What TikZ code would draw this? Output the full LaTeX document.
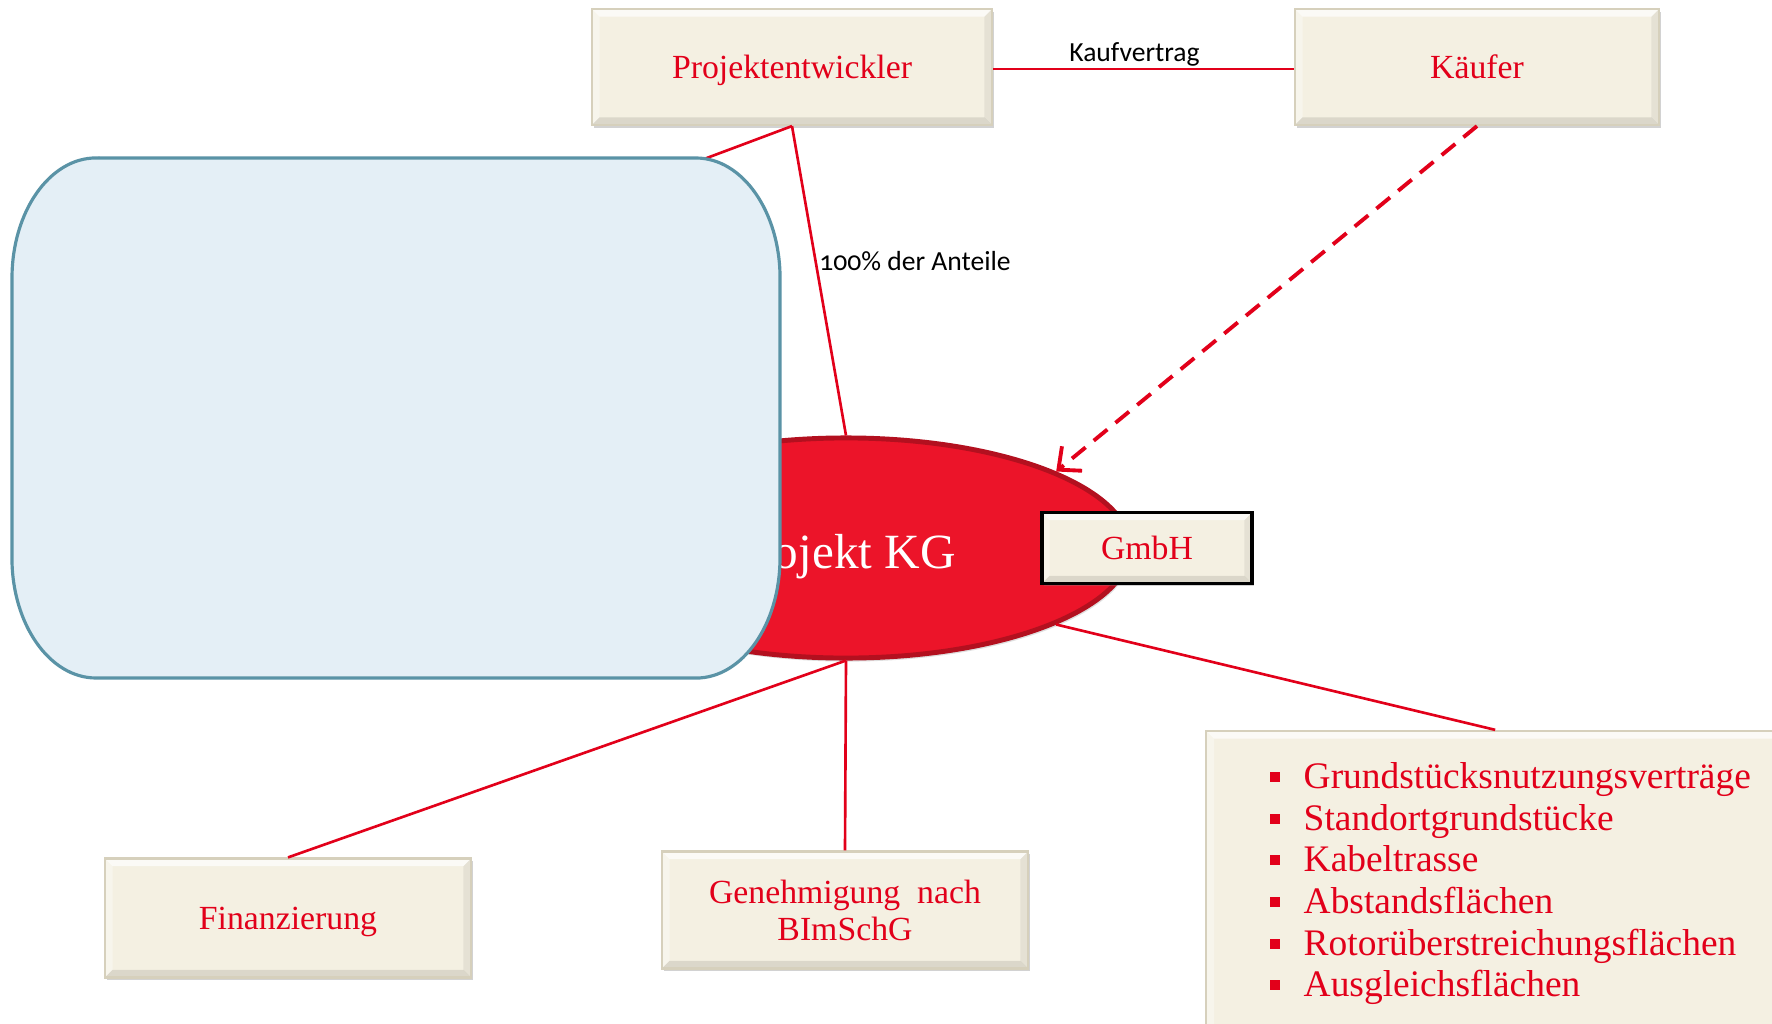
\documentclass[tikz,border=0pt]{standalone}
\usepackage{fontspec}
\setmainfont{Liberation Serif}
\newfontfamily\labfont[Numbers=OldStyle]{Carlito}
\usetikzlibrary{shapes.geometric,arrows.meta,shadows}
\definecolor{rot}{HTML}{E2001A}
\definecolor{kgrot}{HTML}{EC1429}
\definecolor{kgrand}{HTML}{B3101F}
\definecolor{creme}{HTML}{F4F0E2}
\definecolor{cremerand}{HTML}{D6D0BC}
\definecolor{hellblau}{HTML}{E4EFF6}
\definecolor{blaurand}{HTML}{5A93A6}
\tikzset{
  kasten/.style={rectangle, fill=creme, draw=cremerand, line width=0.6pt,
    drop shadow={shadow xshift=0.6pt, shadow yshift=-0.8pt, opacity=0.35},
    text=rot, font=\fontsize{9.6}{11.5}\selectfont, align=center, inner sep=0pt, text depth=0pt,
    path picture={
      \fill[white, opacity=0.7] (path picture bounding box.north west) -- (path picture bounding box.north east)
        -- ([xshift=-2.2pt,yshift=-2.2pt]path picture bounding box.north east) -- ([xshift=2.2pt,yshift=-2.2pt]path picture bounding box.north west) -- cycle;
      \fill[white, opacity=0.35] (path picture bounding box.north west) -- (path picture bounding box.south west)
        -- ([xshift=2.2pt,yshift=2.2pt]path picture bounding box.south west) -- ([xshift=2.2pt,yshift=-2.2pt]path picture bounding box.north west) -- cycle;
      \fill[black, opacity=0.10] (path picture bounding box.south west) -- (path picture bounding box.south east)
        -- ([xshift=-2.2pt,yshift=2.2pt]path picture bounding box.south east) -- ([xshift=2.2pt,yshift=2.2pt]path picture bounding box.south west) -- cycle;
      \fill[black, opacity=0.06] (path picture bounding box.north east) -- (path picture bounding box.south east)
        -- ([xshift=-2.2pt,yshift=2.2pt]path picture bounding box.south east) -- ([xshift=-2.2pt,yshift=-2.2pt]path picture bounding box.north east) -- cycle;
    }},
  verbindung/.style={draw=rot, line width=0.75pt},
  beschriftung/.style={font=\labfont\fontsize{7.85}{9.4}\selectfont, text=black, inner sep=0pt},
  punkt/.style={rectangle, fill=rot, minimum width=0.1cm, minimum height=0.1cm, inner sep=0pt},
  eintrag/.style={anchor=base west, text=rot, font=\fontsize{10.65}{13}\selectfont, inner sep=0pt}
}
\begin{document}
\begin{tikzpicture}[x=0.01cm, y=-0.01cm]
\clip (0,0) rectangle (1772,1024);
\useasboundingbox (0,0) rectangle (1772,1024);
\fill[white] (0,0) rectangle (1772,1024);

% nodes
\node[kasten, minimum width=4cm, minimum height=1.16cm] (pe) at (792,67) {Projektentwickler};
\node[kasten, minimum width=3.64cm, minimum height=1.16cm] (kaeufer) at (1477,67) {Käufer};
\node[kasten, minimum width=3.66cm, minimum height=1.19cm] (fin) at (288,918) {Finanzierung};
\node[kasten, minimum width=3.66cm, minimum height=1.17cm] (gen) at (845,910) {Genehmigung\ \ nach\\[-1pt]BImSchG};
\node[kasten, minimum width=5.83cm, minimum height=3.14cm] (liste) at (1498,888) {};

% Projekt KG ellipse
\node[ellipse, fill=kgrot, draw=kgrand, line width=1.4pt, minimum width=5.68cm, minimum height=2.2cm, inner sep=0pt,
  drop shadow={shadow xshift=0.5pt, shadow yshift=-1pt, opacity=0.25}] (kg) at (846,548) {};
\node[text=white, font=\fontsize{14}{17}\selectfont, inner sep=0pt, anchor=base] (kgtext) at (843,568) {Projekt KG};

% connectors
\coordinate (verdeckt) at (600,198);
\draw[verbindung] ([yshift=-0.6pt]pe.east) -- node[beschriftung, above=0.3pt, pos=0.47] (kv) {Kaufvertrag} ([yshift=-0.6pt]kaeufer.west);
\draw[verbindung] (pe.south) -- (verdeckt);
\draw[verbindung] (pe.south) -- (kg.north);
\node[beschriftung] (anteile) at (915,261) {100\% der Anteile};
\draw[verbindung] (kg.south) -- (fin.north);
\draw[verbindung] (kg.south) -- (gen.north);
\draw[verbindung] (kg.-20) -- ([xshift=-0.8pt]liste.north);
\draw[draw=rot, line width=1.1pt, dash pattern=on 5pt off 3pt, -{Straight Barb[length=5pt, width=9pt, line width=1.1pt]}] (kaeufer.south) -- (kg.20);

% GmbH box
\node[kasten, draw=black, line width=1pt, minimum width=2.1cm, minimum height=0.71cm] (gmbh) at (1147,548) {GmbH};

% list entries
\foreach \y/\t [count=\i] in {788/Grundstücksnutzungsverträge, 830/Standortgrundstücke, 871/Kabeltrasse, 913/Abstandsflächen, 955/Rotorüberstreichungsflächen, 996/Ausgleichsflächen}{
  \node[punkt] (p\i) at (1275,\y-11) {};
  \node[eintrag] (e\i) at (1303,\y) {\t};
}

% blue rounded box
\draw[fill=hellblau, draw=blaurand, line width=0.9pt]
  (96,158) -- (696,158)
  arc[start angle=90, end angle=0, x radius=0.84cm, y radius=1.2cm] -- (780,558)
  arc[start angle=0, end angle=-90, x radius=0.84cm, y radius=1.2cm] -- (96,678)
  arc[start angle=270, end angle=180, x radius=0.84cm, y radius=1.2cm] -- (12,278)
  arc[start angle=180, end angle=90, x radius=0.84cm, y radius=1.2cm] -- cycle;
\end{tikzpicture}
\end{document}
